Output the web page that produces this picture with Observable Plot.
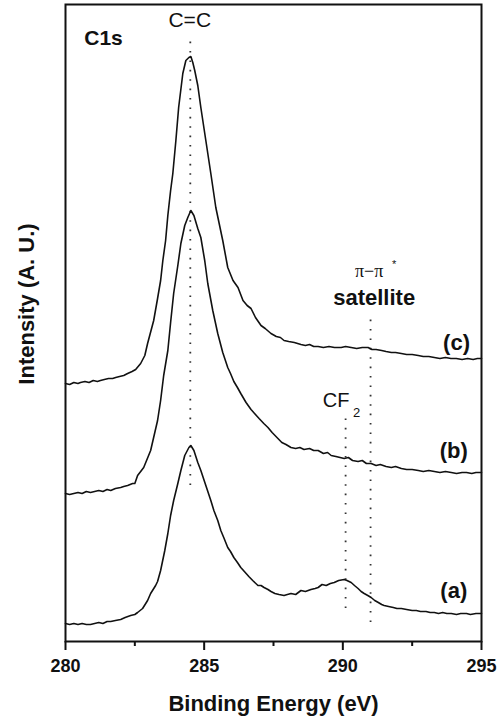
<!DOCTYPE html>
<html>
<head>
<meta charset="utf-8">
<script src="https://cdn.jsdelivr.net/npm/d3@7"></script>
<script src="https://cdn.jsdelivr.net/npm/@observablehq/plot@0.6"></script>
<style>
  html, body { margin: 0; padding: 0; background: #fff; }
</style>
</head>
<body>
<div id="chart"></div>
<script>
// Binding energy (eV) and intensity (arbitrary units) for each spectrum
const energyA = [280.00,280.15,280.30,280.45,280.60,280.75,280.90,281.05,281.20,281.35,281.50,281.63,281.80,281.99,282.15,282.35,282.50,282.60,282.78,282.96,283.07,283.25,283.32,283.43,283.58,283.69,283.79,283.90,284.05,284.16,284.30,284.45,284.52,284.63,284.77,284.88,285.06,285.24,285.35,285.49,285.60,285.72,285.85,285.95,286.07,286.20,286.32,286.45,286.61,286.75,286.94,287.05,287.16,287.30,287.41,287.55,287.70,287.88,288.00,288.13,288.30,288.49,288.65,288.85,289.00,289.11,289.25,289.40,289.55,289.69,289.85,290.05,290.15,290.30,290.42,290.55,290.66,290.77,290.90,291.02,291.15,291.28,291.40,291.49,291.65,291.82,291.95,292.11,292.30,292.50,292.65,292.80,293.00,293.15,293.30,293.45,293.60,293.75,293.91,294.10,294.25,294.46,294.60,294.80,295.00];
const intensityA = [18,17,18,17,18,17,17,18,19,18,20,20,21,22,24,26,27,29,33,41,48,56,60,71,91,108,126,141,158,171,186,194,196,191,179,171,156,141,131,121,111,103,94,90,84,79,74,70,65,61,56,56,54,52,50,48,47,46,47,48,47,51,50,52,53,54,57,56,58,59,61,62,61,59,56,53,50,48,46,44,41,39,37,36,35,34,33,33,32,31,31,30,30,29,29,28,29,28,28,27,28,28,27,28,28];

const energyB = [280.00,280.15,280.30,280.45,280.60,280.75,280.90,281.05,281.20,281.35,281.50,281.63,281.80,281.99,282.10,282.24,282.42,282.50,282.60,282.82,283.07,283.32,283.43,283.54,283.69,283.79,283.90,284.05,284.16,284.30,284.41,284.52,284.63,284.77,284.88,285.02,285.13,285.31,285.49,285.67,285.85,285.95,286.07,286.20,286.32,286.51,286.69,286.85,286.98,287.15,287.30,287.45,287.66,287.80,287.95,288.13,288.30,288.45,288.60,288.80,288.95,289.11,289.30,289.45,289.58,289.75,289.90,290.05,290.20,290.35,290.55,290.70,290.85,291.02,291.20,291.35,291.56,291.75,291.90,292.11,292.30,292.50,292.72,292.90,293.10,293.30,293.50,293.70,293.91,294.10,294.30,294.46,294.65,294.80,295.00];
const intensityB = [148,147,148,149,148,150,149,150,151,150,152,151,153,154,155,156,158,158,166,174,191,221,241,266,291,319,348,376,398,416,424,431,426,413,404,381,358,331,308,289,274,268,260,254,248,239,232,227,223,218,214,209,203,199,197,194,193,194,192,193,191,191,188,189,186,185,184,183,184,181,180,181,178,178,176,177,175,174,175,173,172,172,171,170,171,170,169,170,169,168,169,169,168,169,169];

const energyC = [280.00,280.15,280.30,280.45,280.54,280.70,280.85,281.00,281.15,281.26,281.40,281.55,281.70,281.81,281.95,282.10,282.24,282.40,282.53,282.71,282.86,282.96,283.18,283.32,283.43,283.51,283.61,283.69,283.79,283.87,283.98,284.08,284.23,284.34,284.45,284.52,284.59,284.66,284.77,284.88,285.06,285.24,285.42,285.67,285.85,286.04,286.22,286.40,286.55,286.69,286.85,287.05,287.20,287.41,287.60,287.75,287.88,288.05,288.25,288.49,288.65,288.80,288.95,289.11,289.30,289.50,289.70,289.94,290.10,290.30,290.50,290.70,290.91,291.05,291.20,291.40,291.56,291.75,291.90,292.11,292.30,292.50,292.72,292.90,293.10,293.30,293.50,293.70,293.90,294.09,294.30,294.50,294.70,294.85,295.00];
const intensityC = [258,257,259,258,259,260,259,261,260,261,262,263,263,264,265,266,268,270,272,278,286,298,321,343,361,381,401,426,451,468,501,534,568,581,584,585,579,571,556,534,501,468,434,401,374,361,354,341,336,333,324,316,313,308,305,304,301,300,299,297,296,297,295,295,294,295,294,294,295,294,293,294,294,292,292,291,290,289,289,288,287,287,286,285,285,284,283,284,283,283,282,283,282,283,283];

// Reference lines: position (eV), lower and upper intensity extent
const refEnergy = [284.5, 290.1, 291.0];
const refLow = [156, 33, 19];
const refHigh = [603, 226, 326];

// Axis ticks
const majorTicks = [280, 285, 290, 295];
const minorTicks = [282.5, 287.5, 292.5];

// Annotations
const curveLabels = ["(a)", "(b)", "(c)"];
const curveLabelX = [294.0, 294.0, 294.1];
const curveLabelY = [51, 191, 299];

const toRows = (xs, ys) => xs.map((x, i) => ({x, y: ys[i]}));
const seriesA = toRows(energyA, intensityA);
const seriesB = toRows(energyB, intensityB);
const seriesC = toRows(energyC, intensityC);
const refs = refEnergy.map((x, i) => ({x, y1: refLow[i], y2: refHigh[i]}));
const labels = curveLabels.map((t, i) => ({t, x: curveLabelX[i], y: curveLabelY[i]}));

const ink = "#111";
const chart = Plot.plot({
  width: 499,
  height: 723,
  marginTop: 4,
  marginRight: 18,
  marginBottom: 82,
  marginLeft: 65,
  style: {fontFamily: "'Liberation Sans', Arial, sans-serif", fontWeight: "bold", color: ink, background: "#fff"},
  x: {domain: [280, 295]},
  y: {domain: [0, 637], axis: null},
  marks: [
    Plot.ruleX(refs, {x: "x", y1: "y1", y2: "y2", stroke: "#333", strokeWidth: 1.8, strokeDasharray: "1.6,7.8"}),
    Plot.line(seriesA, {x: "x", y: "y", stroke: ink, strokeWidth: 1.6}),
    Plot.line(seriesB, {x: "x", y: "y", stroke: ink, strokeWidth: 1.6}),
    Plot.line(seriesC, {x: "x", y: "y", stroke: ink, strokeWidth: 1.6}),
    Plot.frame({stroke: ink, strokeWidth: 2}),
    Plot.axisX({ticks: majorTicks, tickSize: 9, tickPadding: 9, fontSize: 18, fontWeight: "bold", strokeWidth: 2, label: null}),
    Plot.axisX({ticks: minorTicks, tickSize: 5, tickFormat: () => "", strokeWidth: 2, label: null}),
    Plot.text(["Binding Energy (eV)"], {frameAnchor: "bottom", lineAnchor: "middle", dy: 62, fontSize: 22, fontWeight: "bold", fill: ink}),
    Plot.text(["Intensity (A. U.)"], {frameAnchor: "left", textAnchor: "middle", lineAnchor: "middle", dx: -39, dy: -19, rotate: -90, fontSize: 22, fontWeight: "bold", fill: ink}),
    Plot.text(labels, {x: "x", y: "y", text: "t", fontSize: 22, fontWeight: "bold", fill: ink}),
    Plot.text(["C1s"], {x: 281.37, y: 603, fontSize: 21, fontWeight: "bold", fill: ink}),
    Plot.text(["C=C"], {x: 284.48, y: 621, fontSize: 21, fontWeight: "normal", fill: ink}),
    Plot.text(["satellite"], {x: 291.13, y: 344, fontSize: 22, fontWeight: "bold", fill: ink}),
    Plot.text(["π−π"], {x: 290.95, y: 370, fontSize: 18, fontWeight: "normal", fontFamily: "'Liberation Serif', 'DejaVu Serif', serif", fill: ink}),
    Plot.text(["*"], {x: 291.85, y: 377, fontSize: 11, fontWeight: "normal", fill: ink}),
    Plot.text(["CF"], {x: 289.76, y: 241, fontSize: 20, fontWeight: "normal", fill: ink}),
    Plot.text(["2"], {x: 290.5, y: 229, fontSize: 13, fontWeight: "normal", fill: ink})
  ]
});
document.getElementById("chart").append(chart);
</script>
</body>
</html>
